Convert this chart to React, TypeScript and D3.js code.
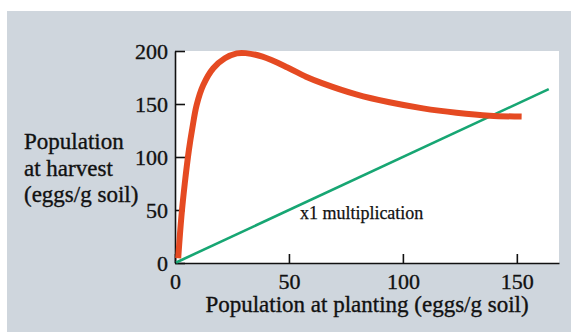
import React, {useRef, useEffect} from 'react';
import * as d3 from 'd3';

const width = 571;
const height = 332;

// harvest curve (planting -> harvest, eggs/g soil)
const plantingValues = [1.4, 2.8, 4.3, 6.1, 7.6, 9.5, 12.4, 16.8, 21.9, 27.1, 31, 38.4, 49.4, 57.5, 64.8, 79.5, 94.1, 108.8, 123.5, 138.1, 152.1];
const harvestValues = [4.4, 43.7, 75.2, 106.6, 127.1, 149.1, 167.9, 183.7, 193.1, 197.8, 198, 194.6, 184.5, 175.8, 169.5, 159.1, 151.6, 145.9, 141.8, 139, 138.1];

// x1 multiplication line
const linePlanting = [0.5, 164];
const lineHarvest = [0.5, 164];

const xTicks = [0, 50, 100, 150];
const yTicks = [0, 50, 100, 150, 200];
const yTitleLines = ['Population', 'at harvest', '(eggs/g soil)'];
const xTitle = 'Population at planting (eggs/g soil)';
const lineLabel = 'x1 multiplication';
const lineLabelAt = [54.8, 41.5];

const margin = {left: 175, right: 12, top: 51, bottom: 69};
const xMax = 168.5;
const font = '"Liberation Serif", "Times New Roman", serif';
const ink = '#111';

const styleText = (sel: any, size: number) =>
  sel
  .attr('font-family', font)
  .attr('font-size', size)
  .attr('fill', ink)
  .attr('stroke', ink)
  .attr('stroke-width', 0.35);

const draw = (svgEl: SVGSVGElement) => {
  const svg = d3.select(svgEl);
  svg.selectAll('*').remove();

  const x = d3.scaleLinear().domain([0, xMax]).range([margin.left, width - margin.right]);
  const y = d3.scaleLinear().domain([0, 200]).range([height - margin.bottom, margin.top]);

  // grey panel
  svg.append('rect').attr('x', 7).attr('y', 11).attr('width', width - 7).attr('height', height - 11).attr('fill', '#cfd6dd');

  // white plot area
  svg
  .append('rect')
  .attr('x', x(0))
  .attr('y', y(200))
  .attr('width', x(xMax) - x(0))
  .attr('height', y(0) - y(200))
  .attr('fill', 'white');

  // axes
  const xAxis = svg
  .append('g')
  .attr('transform', `translate(0,${y(0)})`)
  .call(d3.axisBottom(x).tickValues(xTicks).tickSizeInner(-9).tickSizeOuter(0).tickPadding(10));
  const yAxis = svg
  .append('g')
  .attr('transform', `translate(${x(0)},0)`)
  .call(d3.axisLeft(y).tickValues(yTicks).tickSizeInner(-10).tickSizeOuter(0).tickPadding(7));

  [xAxis, yAxis].forEach(g => {
    g.selectAll('path, line').attr('stroke', ink).attr('stroke-width', 1.6);
    styleText(g.selectAll('text'), 22);
  });
  yAxis.selectAll('text').attr('dy', '0.36em');

  // x1 multiplication line
  const straight = d3
  .line<number>()
  .x(d => x(d))
  .y((d, i) => y(lineHarvest[i]));
  svg
  .append('path')
  .datum(linePlanting)
  .attr('d', straight)
  .attr('fill', 'none')
  .attr('stroke', '#17a673')
  .attr('stroke-width', 2.6);

  // harvest curve
  const curve = d3
  .line<number>()
  .x(d => x(d))
  .y((d, i) => y(harvestValues[i]))
  .curve(d3.curveCatmullRom.alpha(0.5));
  svg
  .append('path')
  .datum(plantingValues)
  .attr('d', curve)
  .attr('fill', 'none')
  .attr('stroke', '#e54a22')
  .attr('stroke-width', 6)
  .attr('stroke-linejoin', 'round');

  styleText(
    svg
    .append('text')
    .attr('x', x(lineLabelAt[0]))
    .attr('y', y(lineLabelAt[1]))
    .text(lineLabel),
    18,
  ).attr('stroke-width', 0.25);

  // titles
  styleText(
    svg
    .append('text')
    .attr('x', (x(0) + x(xMax)) / 2)
    .attr('y', 312)
    .attr('text-anchor', 'middle')
    .text(xTitle),
    23,
  );

  styleText(
    svg
    .append('g')
    .selectAll('text')
    .data(yTitleLines)
    .enter()
    .append('text')
    .attr('x', 24)
    .attr('y', (d, i) => 149 + i * 26.5)
    .text(d => d),
    23,
  );
};

export default function App() {
  const svgRef = useRef<SVGSVGElement>(null);
  useEffect(() => {
    if (svgRef.current) draw(svgRef.current);
  }, []);
  return (
    <svg
      ref={svgRef}
      width={width}
      height={height}
      style={{position: 'absolute', left: 0, top: 0, background: 'white'}}
    />
  );
}
